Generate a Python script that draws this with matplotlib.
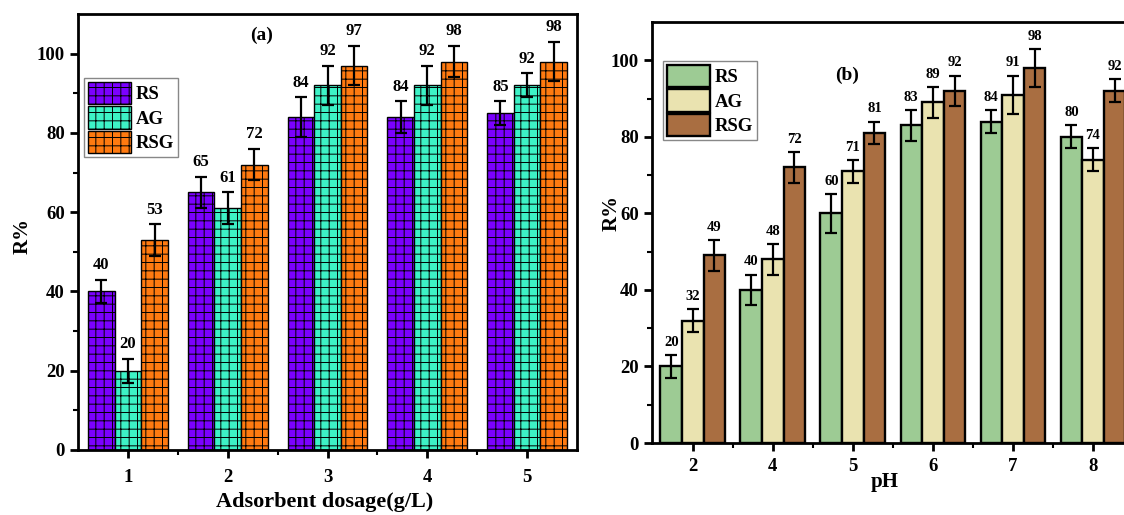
import matplotlib
matplotlib.use("Agg")
import matplotlib.pyplot as plt
import numpy as np

plt.rcParams['font.family'] = 'Liberation Serif'
plt.rcParams['font.weight'] = 'bold'
plt.rcParams['hatch.linewidth'] = 0.7
plt.rcParams['hatch.color'] = '#1a1a1a'

# ── data: panel (a) adsorbent dosage ─────────────────────────────────────────
dose_labels = ["1", "2", "3", "4", "5"]
a_rs = [40, 65, 84, 84, 85]
a_ag = [20, 61, 92, 92, 92]
a_rsg = [53, 72, 97, 98, 98]
a_rs_err = [3, 4, 5, 4, 3]
a_ag_err = [3, 4, 5, 5, 3]
a_rsg_err = [4, 4, 5, 4, 5]

# ── data: panel (b) pH ───────────────────────────────────────────────────────
ph_labels = ["2", "4", "5", "6", "7", "8"]
b_rs = [20, 40, 60, 83, 84, 80]
b_ag = [32, 48, 71, 89, 91, 74]
b_rsg = [49, 72, 81, 92, 98, 92]
b_rs_err = [3, 4, 5, 4, 3, 3]
b_ag_err = [3, 4, 3, 4, 5, 3]
b_rsg_err = [4, 4, 3, 4, 5, 3]

series = ["RS", "AG", "RSG"]
colors_a = ["#7B00FF", "#3DF2C6", "#FF7A10"]
colors_b = ["#9DCB94", "#EAE3B0", "#A96E41"]

W, H = 1124, 515
fig = plt.figure(figsize=(W / 100, H / 100), dpi=100)
fig.patch.set_facecolor("white")


def style_axis(ax, xpad):
    for s in ax.spines.values():
        s.set_linewidth(2)
    ax.tick_params(which="major", direction="out", length=6, width=2, labelsize=13.5)
    ax.tick_params(which="minor", direction="out", length=3.5, width=1.5)
    ax.tick_params(axis="x", which="major", pad=xpad)
    ax.set_yticks(np.arange(0, 101, 20))
    ax.set_yticks(np.arange(10, 101, 20), minor=True)
    ax.set_ylim(0, 110)


def draw_panel(ax, x, vals, errs, colors, width, hatch, edge_lw, lab_size, lab_gap):
    for i, (v, e, c, name) in enumerate(zip(vals, errs, colors, series)):
        xs = x + (i - 1) * width
        ax.bar(xs, v, width, color=c, edgecolor="black", linewidth=edge_lw,
               hatch=hatch, label=name, zorder=2)
        ax.errorbar(xs, v, yerr=e, fmt="none", ecolor="black", elinewidth=1.6,
                    capsize=4, capthick=1.6, zorder=3)
        for xx, vv, ee in zip(xs, v, e):
            ax.text(xx, vv + ee + lab_gap, f"{vv}", ha="center", va="bottom",
                    fontsize=lab_size, fontweight="bold")


def add_legend(ax, anchor):
    ax.legend(loc="upper left", bbox_to_anchor=anchor, borderaxespad=0,
              fontsize=13.5, handlelength=2.3, handleheight=1.45, labelspacing=0.12,
              handletextpad=0.25, borderpad=0.2, fancybox=False, edgecolor="#888888",
              framealpha=1)


# ═══ panel (a) ═══════════════════════════════════════════════════════════════
axa = fig.add_axes([78 / W, 1 - 450 / H, 499 / W, 436 / H])
xa = np.arange(1, len(dose_labels) + 1)
wa = 0.267
draw_panel(axa, xa, [a_rs, a_ag, a_rsg], [a_rs_err, a_ag_err, a_rsg_err],
           colors_a, wa, "++", 1.0, 12, 1.6)
style_axis(axa, 8)
axa.set_xlim(0.5, 5.5)
axa.set_xticks(xa)
axa.set_xticklabels(dose_labels)
axa.set_xticks(xa[:-1] + 0.5, minor=True)
axa.set_xlabel("Adsorbent dosage(g/L)", fontsize=16, fontweight="bold")
axa.xaxis.set_label_coords(0.495, -0.097)
axa.set_ylabel("R%", fontsize=15, fontweight="bold")
axa.yaxis.set_label_coords(-0.09, 0.49)
axa.text(2.34, 104.5, "(a)", ha="center", va="center", fontsize=14, fontweight="bold")
add_legend(axa, (0.012, 0.853))

# ═══ panel (b) ═══════════════════════════════════════════════════════════════
axb = fig.add_axes([652 / W, 1 - 443 / H, 489 / W, 421 / H])
xb = np.arange(len(ph_labels))
wb = 0.27
draw_panel(axb, xb, [b_rs, b_ag, b_rsg], [b_rs_err, b_ag_err, b_rsg_err],
           colors_b, wb, None, 1.7, 10.5, 1.6)
style_axis(axb, 5)
axb.set_xlim(-0.51, 5.6)
axb.set_xticks(xb)
axb.set_xticklabels(ph_labels)
axb.set_xticks(xb[:-1] + 0.5, minor=True)
axb.set_xlabel("pH", fontsize=15, fontweight="bold")
axb.xaxis.set_label_coords(0.476, -0.068)
axb.set_ylabel("R%", fontsize=15, fontweight="bold")
axb.yaxis.set_label_coords(-0.062, 0.546)
axb.text(1.925, 96, "(b)", ha="center", va="center", fontsize=14, fontweight="bold")
add_legend(axb, (0.0225, 0.907))

fig.savefig("out.png", dpi=100)
plt.close(fig)
